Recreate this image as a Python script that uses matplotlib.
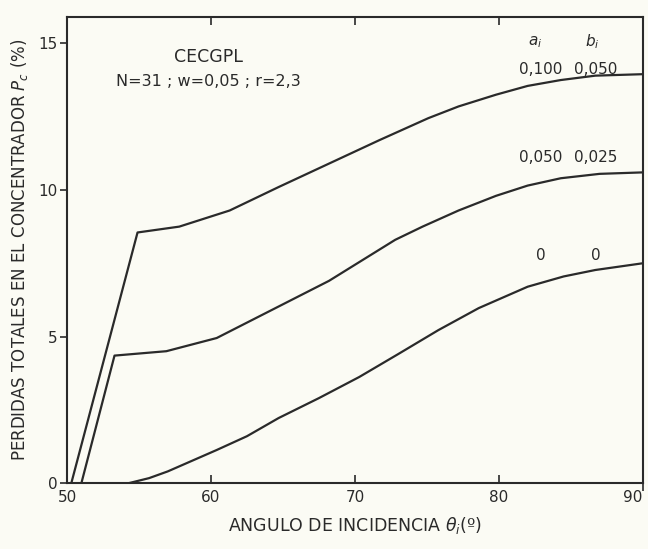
import numpy as np
import matplotlib.pyplot as plt

# -----------------------------
# Data
# -----------------------------
# curve a=0.100, b=0.050
x_top = [50.3, 54.9, 57.8, 61.3, 64.7, 68.2, 71.7, 75.1, 77.2, 79.8, 82.0, 84.3, 86.7, 90.0]
y_top = [0.0, 8.55, 8.75, 9.3, 10.1, 10.9, 11.7, 12.45, 12.85, 13.25, 13.55, 13.75, 13.9, 13.95]

# curve a=0.050, b=0.025
x_mid = [51.0, 53.3, 56.9, 60.4, 63.8, 68.2, 72.8, 74.7, 77.2, 79.8, 82.0, 84.3, 87.0, 90.0]
y_mid = [0.0, 4.35, 4.5, 4.95, 5.8, 6.9, 8.3, 8.75, 9.3, 9.8, 10.15, 10.4, 10.55, 10.6]

# curve a=0, b=0
x_bot = [54.3, 55.7, 57.0, 60.4, 62.5, 64.7, 67.5, 70.3, 73.0, 75.8, 78.6, 82.0, 84.5, 86.7, 90.0]
y_bot = [0.0, 0.17, 0.4, 1.13, 1.6, 2.22, 2.9, 3.62, 4.4, 5.22, 5.97, 6.7, 7.05, 7.27, 7.5]

a_labels = ['0,100', '0,050', '0']
b_labels = ['0,050', '0,025', '0']
label_y = [13.85, 10.85, 7.5]

xticks = [50, 60, 70, 80, 90]
yticks = [0, 5, 10, 15]

# -----------------------------
# Plot
# -----------------------------
bg = '#fbfbf4'
ink = '#2a2a2a'

fig = plt.figure(figsize=(6.48, 5.49), dpi=100, facecolor=bg)
ax = fig.add_axes([0.1034, 0.120, 0.8886, 0.849], facecolor=bg)

for xs, ys in [(x_top, y_top), (x_mid, y_mid), (x_bot, y_bot)]:
    ax.plot(xs, ys, color=ink, lw=1.6)

ax.set_xlim(50, 90)
ax.set_ylim(0, 15.9)
ax.set_xticks(xticks)
ax.set_yticks(yticks)

for s in ax.spines.values():
    s.set_linewidth(1.5)
    s.set_color(ink)

ax.tick_params(axis='x', direction='in', top=True, length=6, width=1.2,
               labelsize=11, colors=ink, pad=5)
ax.tick_params(axis='y', direction='out', length=5, width=1.2,
               labelsize=11, colors=ink, pad=2)
ax.tick_params(axis='y', which='both', right=True)
for t in ax.yaxis.get_major_ticks():
    t.tick2line.set_marker(3)  # right-side ticks pointing into the box
    t.tick2line.set_markersize(6)
ax.get_xticklabels()[-1].set_horizontalalignment('right')

ax.set_xlabel(r'ANGULO DE INCIDENCIA $\theta_i$(º)', fontsize=12.5, color=ink, labelpad=7)
ax.set_ylabel(r'PERDIDAS TOTALES EN EL CONCENTRADOR $P_c$ (%)', fontsize=12,
              color=ink, labelpad=6)

ax.text(59.8, 14.55, 'CECGPL', ha='center', va='center', fontsize=12.5, color=ink)
ax.text(59.8, 13.7, 'N=31 ; w=0,05 ; r=2,3', ha='center', va='center', fontsize=11.5, color=ink)

ax.text(82.5, 15.05, r'$a_i$', ha='center', va='center', fontsize=11, color=ink)
ax.text(86.5, 15.05, r'$b_i$', ha='center', va='center', fontsize=11, color=ink)
for a, b, yy in zip(a_labels, b_labels, label_y):
    ax.text(82.9, yy, a, ha='center', va='bottom', fontsize=11, color=ink)
    ax.text(86.75, yy, b, ha='center', va='bottom', fontsize=11, color=ink)

fig.savefig('out.png', dpi=100, facecolor=bg)
